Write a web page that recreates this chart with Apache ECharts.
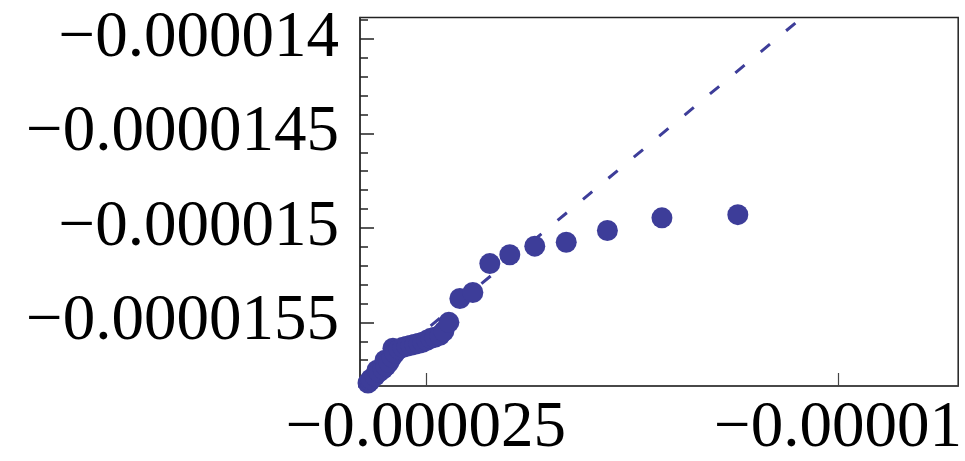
<!DOCTYPE html>
<html>
<head>
<meta charset="utf-8">
<script src="https://cdn.jsdelivr.net/npm/echarts@6/dist/echarts.min.js"></script>
<style>
  html, body { margin: 0; padding: 0; background: #fff; }
  #chart { width: 965px; height: 461px; }
</style>
</head>
<body>
<div id="chart"></div>
<script>
// Sample quantiles (x) against model quantiles (y)
const sampleX = [
  -0.000027108, -0.000027036, -0.000027000, -0.000026854, -0.000026781,
  -0.000026708, -0.000026563, -0.000026490, -0.000026454, -0.000026345,
  -0.000026236, -0.000026200, -0.000026127, -0.000025981, -0.000025836,
  -0.000025691, -0.000025545, -0.000025400, -0.000025254, -0.000025109,
  -0.000024964, -0.000024818, -0.000024673, -0.000024491, -0.000024346,
  -0.000024164, -0.000023764, -0.000023292, -0.000022674, -0.000021947,
  -0.000021038, -0.000019893, -0.000018395, -0.000016410, -0.000013648
];
const sampleY = [
  -0.000015821, -0.000015811, -0.000015800, -0.000015784, -0.000015753,
  -0.000015763, -0.000015747, -0.000015700, -0.000015732, -0.000015711,
  -0.000015684, -0.000015637, -0.000015663, -0.000015642, -0.000015632,
  -0.000015626, -0.000015621, -0.000015616, -0.000015611, -0.000015605,
  -0.000015595, -0.000015584, -0.000015579, -0.000015568, -0.000015547,
  -0.000015500, -0.000015374, -0.000015342, -0.000015189, -0.000015142,
  -0.000015097, -0.000015076, -0.000015014, -0.000014947, -0.000014930
];

// Reference line end points
const refX = [-0.00002760, -0.00001131];
const refY = [-0.000015853, -0.0000138868];

// Axis ticks and their labels
const xTickValues = [-0.000025, -0.00001];
const xTickLabels = ['\u22120.000025', '\u22120.00001'];
const yTickValues = [-0.000014, -0.0000145, -0.000015, -0.0000155];
const yTickLabels = ['\u22120.000014', '\u22120.0000145', '\u22120.000015', '\u22120.0000155'];

const X_MIN = -0.000027399, X_MAX = -0.000005627;
const Y_MIN = -0.0000158368, Y_MAX = -0.0000138868;

const yMinorTicks = [];
for (let k = 139; k <= 158; k++) yMinorTicks.push(-k * 1e-7);

function lookup(values, labels) {
  return function (v) {
    let best = 0;
    for (let i = 1; i < values.length; i++) {
      if (Math.abs(values[i] - v) < Math.abs(values[best] - v)) best = i;
    }
    return labels[best];
  };
}

const ink = '#3d3d99';
const font = 'Liberation Serif';

const chart = echarts.init(document.getElementById('chart'), null, { renderer: 'canvas' });
chart.setOption({
  animation: false,
  grid: {
    left: 360, top: 17.5, right: 6, bottom: 73,
    show: true, borderColor: '#222', borderWidth: 1.5, backgroundColor: 'transparent'
  },
  xAxis: {
    type: 'value', min: X_MIN, max: X_MAX,
    axisLine: { show: true, lineStyle: { color: '#444', width: 1.5 } },
    axisTick: { show: true, inside: true, length: 13, customValues: xTickValues,
                lineStyle: { color: '#444', width: 1.2 } },
    axisLabel: { show: true, customValues: xTickValues, margin: 10,
                 formatter: lookup(xTickValues, xTickLabels),
                 fontFamily: font, fontSize: 65, color: '#000' },
    splitLine: { show: false }
  },
  yAxis: [
    {
      type: 'value', min: Y_MIN, max: Y_MAX,
      axisLine: { show: true, lineStyle: { color: '#333', width: 1.5 } },
      axisTick: { show: true, inside: true, length: 14, customValues: yTickValues,
                  lineStyle: { color: '#222', width: 1.5 } },
      axisLabel: { show: true, customValues: yTickValues, margin: 21,
                   padding: [0, 0, 10, 0],
                   formatter: lookup(yTickValues, yTickLabels),
                   fontFamily: font, fontSize: 65, color: '#000' },
      splitLine: { show: false }
    },
    {
      type: 'value', min: Y_MIN, max: Y_MAX, position: 'left',
      axisLine: { show: false },
      axisTick: { show: true, inside: true, length: 8, customValues: yMinorTicks,
                  lineStyle: { color: '#222', width: 1.5 } },
      axisLabel: { show: false },
      splitLine: { show: false }
    }
  ],
  series: [
    {
      type: 'line',
      data: refX.map((x, i) => [x, refY[i]]),
      showSymbol: false,
      clip: false,
      lineStyle: { color: ink, width: 3, type: [12, 21] },
      z: 1
    },
    {
      type: 'scatter',
      data: sampleX.map((x, i) => [x, sampleY[i]]),
      symbol: 'circle',
      symbolSize: 21,
      clip: false,
      itemStyle: { color: ink, opacity: 1 },
      z: 2
    }
  ]
});
</script>
</body>
</html>
